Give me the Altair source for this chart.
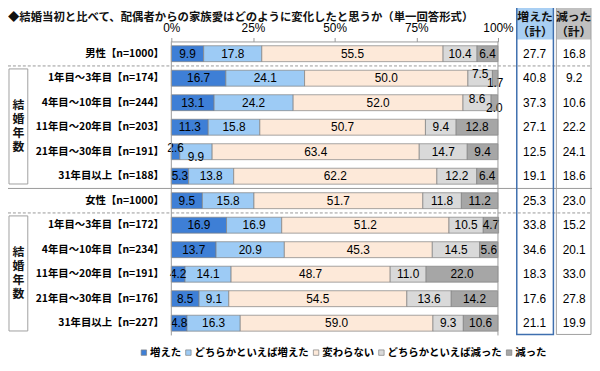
import altair as alt
import pandas as pd

labels = [
    "男性【n=1000】",
    "1年目～3年目【n=174】",
    "4年目～10年目【n=244】",
    "11年目～20年目【n=203】",
    "21年目～30年目【n=191】",
    "31年目以上【n=188】",
    "女性【n=1000】",
    "1年目～3年目【n=172】",
    "4年目～10年目【n=234】",
    "11年目～20年目【n=191】",
    "21年目～30年目【n=176】",
    "31年目以上【n=227】",
]
categories = ["増えた", "どちらかといえば増えた", "変わらない", "どちらかといえば減った", "減った"]
colors = ["#3e7fd6", "#9dcbf5", "#fde9d9", "#d9d9d9", "#a6a6a6"]

inc = [9.9, 16.7, 13.1, 11.3, 2.6, 5.3, 9.5, 16.9, 13.7, 4.2, 8.5, 4.8]
inc_some = [17.8, 24.1, 24.2, 15.8, 9.9, 13.8, 15.8, 16.9, 20.9, 14.1, 9.1, 16.3]
same = [55.5, 50.0, 52.0, 50.7, 63.4, 62.2, 51.7, 51.2, 45.3, 48.7, 54.5, 59.0]
dec_some = [10.4, 7.5, 8.6, 9.4, 14.7, 12.2, 11.8, 10.5, 14.5, 11.0, 13.6, 9.3]
dec = [6.4, 1.7, 2.0, 12.8, 9.4, 6.4, 11.2, 4.7, 5.6, 22.0, 14.2, 10.6]
inc_total = [27.7, 40.8, 37.3, 27.1, 12.5, 19.1, 25.3, 33.8, 34.6, 18.3, 17.6, 21.1]
dec_total = [16.8, 9.2, 10.6, 22.2, 24.1, 18.6, 23.0, 15.2, 20.1, 33.0, 27.8, 19.9]

series = [inc, inc_some, same, dec_some, dec]

# long table; label-collision rule for tiny end segments
recs = []
for r, lab in enumerate(labels):
    vals = [s[r] for s in series]
    shift = ["mid"] * 5
    if vals[0] < 3:
        shift[0], shift[1] = "up", "down"
    if vals[4] < 3:
        shift[4], shift[3] = "down", "up"
    for i, c in enumerate(categories):
        recs.append({"label": lab, "cat": c, "idx": i, "value": vals[i], "shift": shift[i]})
df = pd.DataFrame(recs)
tot = pd.DataFrame({"label": labels, "inc_total": inc_total, "dec_total": dec_total})

W, H = 330, 297
STEP = H / len(labels)
JP = "Noto Sans CJK JP"
NUM = "Liberation Sans"

yenc = alt.Y("label:N", sort=labels,
             scale=alt.Scale(paddingInner=0.35, paddingOuter=0.175),
             axis=alt.Axis(title=None, ticks=False, domain=False, labelFont=JP,
                           labelFontWeight="bold", labelFontSize=10.5, labelPadding=8,
                           labelColor="black", labelLimit=200))

base = alt.Chart(df).transform_stack(
    stack="value", groupby=["label"], as_=["x0", "x1"], sort=[alt.SortField("idx")]
).transform_calculate(mid="(datum.x0 + datum.x1) / 2")

bars = base.mark_bar(stroke="#808080", strokeWidth=0.7).encode(
    x=alt.X("x0:Q", scale=alt.Scale(domain=[0, 100], nice=False),
            axis=alt.Axis(orient="top", values=[0, 25, 50, 75, 100],
                          labelExpr="datum.value + '%'", title=None, grid=False,
                          domainColor="#999999", tickColor="#999999", tickSize=4,
                          labelFontSize=12, labelFont=NUM, labelPadding=3,
                          labelColor="black", labelFlush=False)),
    x2="x1:Q",
    y=yenc,
    color=alt.Color("cat:N", sort=categories,
                    scale=alt.Scale(domain=categories, range=colors),
                    legend=alt.Legend(orient="none", legendX=-33, legendY=309,
                                      direction="horizontal", columns=5, title=None,
                                      symbolType="square", symbolSize=30,
                                      symbolStrokeColor="#808080", symbolStrokeWidth=0.7,
                                      labelFont=JP, labelFontSize=10.5,
                                      labelFontWeight="bold", labelColor="black",
                                      labelOffset=1, columnPadding=2)),
    order=alt.Order("idx:Q"),
)

def label_layer(kind, dy):
    return base.transform_filter(alt.datum.shift == kind).mark_text(
        font=NUM, fontSize=12, color="black", dy=dy
    ).encode(x="mid:Q", y=alt.Y("label:N", sort=labels),
             text=alt.Text("value:Q", format=".1f"))

txt_mid = label_layer("mid", 0)
txt_up = label_layer("up", -4)
txt_down = label_layer("down", 5)

INC_X, DEC_X = 367, 407
tot_inc = alt.Chart(tot).mark_text(font=NUM, fontSize=12, color="black").encode(
    x=alt.value(INC_X), y=alt.Y("label:N", sort=labels), text=alt.Text("inc_total:Q", format=".1f"))
tot_dec = alt.Chart(tot).mark_text(font=NUM, fontSize=12, color="black").encode(
    x=alt.value(DEC_X), y=alt.Y("label:N", sort=labels), text=alt.Text("dec_total:Q", format=".1f"))

one = pd.DataFrame({"k": [0]})

def hline(y, dash):
    kw = {"strokeDash": [3, 2]} if dash else {}
    return alt.Chart(one).mark_rule(color="#999999", strokeWidth=1, **kw).encode(
        x=alt.value(-165), x2=alt.value(427), y=alt.value(y))

lines = [hline(STEP * 1, True), hline(STEP * 6, False), hline(STEP * 7, True)]

vlines = [alt.Chart(one).mark_rule(color="#999999", strokeWidth=1).encode(
    x=alt.value(xv), y=alt.value(0), y2=alt.value(H)) for xv in (0, W)]

def box(x1, x2, y1, y2, stroke, sw=1, fill=None):
    if fill:
        m = alt.Chart(one).mark_rect(fill=fill, strokeWidth=0)
    else:
        m = alt.Chart(one).mark_rect(fillOpacity=0, stroke=stroke, strokeWidth=sw)
    return m.encode(x=alt.value(x1), x2=alt.value(x2), y=alt.value(y1), y2=alt.value(y2))

boxes = [
    box(349, 386, -35, -2, None, fill="#a9cff3"),
    box(389, 424, -35, -2, None, fill="#c0c0c0"),
    box(349, 386, -35, H - 1, "#3f6faf", 1.5),
    box(389, 424, -35, H - 1, "#a0a0a0", 1),
    box(-164, -145, STEP * 1 + 3, STEP * 6 - 4.5, "#a0a0a0", 1),
    box(-164, -145, STEP * 7 + 3, STEP * 12 - 4.5, "#a0a0a0", 1),
]

def tx(text, x, y, size=12, align="center", weight="bold", font=JP, baseline="middle", **kw):
    return alt.Chart(pd.DataFrame({"t": [text]})).mark_text(
        font=font, fontSize=size, fontWeight=weight, align=align, baseline=baseline,
        color="#111111", **kw).encode(x=alt.value(x), y=alt.value(y), text="t:N")

vert = ["結", "婚", "年", "数"]
vtexts = []
for top, bot in ((STEP * 1, STEP * 6), (STEP * 7, STEP * 12)):
    c = (top + bot) / 2 - 1
    for j, ch in enumerate(vert):
        vtexts.append(tx(ch, -154.5, c + (j - 1.5) * 14, size=12))

texts = [
    tx("◆結婚当初と比べて、配偶者からの家族愛はどのように変化したと思うか（単一回答形式）",
       -165, -24, size=11.5, align="left"),
    tx("増えた", 367.5, -25),
    tx("（計）", 367.5, -10),
    tx("減った", 406.5, -25),
    tx("（計）", 406.5, -10),
] + vtexts

chart = alt.layer(
    *boxes[:2], bars, txt_mid, txt_up, txt_down, tot_inc, tot_dec,
    *lines, *vlines, *boxes[2:], *texts
).properties(
    width=W, height=H,
    padding={"left": 165, "top": 32, "right": 95, "bottom": 21},
    autosize=alt.AutoSizeParams(type="none"),
    background="white",
).configure_view(stroke=None)

chart.save("out.html", embed_options={"renderer": "svg", "actions": False})
